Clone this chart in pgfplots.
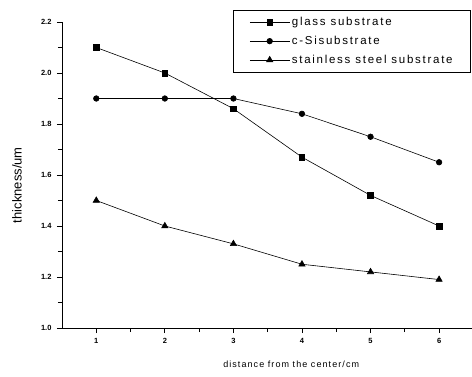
\documentclass[border=0pt]{standalone}
\usepackage{pgfplots}
\pgfplotsset{compat=1.18}
\usepackage{fontspec}
\setmainfont{Liberation Sans}
\newfontfamily\spaced[LetterSpace=12]{Liberation Sans}
\newfontfamily\lspaced[LetterSpace=15]{Liberation Sans}
\begin{document}
\begin{tikzpicture}
\begin{axis}[
  scale only axis,
  width=410pt, height=306pt,
  at={(0,0)}, anchor=south west,
  xmin=0.5, xmax=6.48, ymin=1.0, ymax=2.2,
  axis x line*=bottom, axis y line*=left,
  axis line style={-, line width=0.8pt},
  xtick={1,2,3,4,5,6}, ytick={1.0,1.2,1.4,1.6,1.8,2.0,2.2},
  minor xtick={1.5,2.5,3.5,4.5,5.5},
  minor ytick={1.1,1.3,1.5,1.7,1.9,2.1},
  tick align=outside,
  major tick length=5pt, minor tick length=4pt,
  every tick/.style={black, line width=0.8pt},
  /pgf/number format/assume math mode=true,
  /pgf/number format/fixed, /pgf/number format/fixed zerofill, /pgf/number format/precision=1,
  xticklabel style={font=\fontsize{7.5}{8}\selectfont\bfseries, /pgf/number format/precision=0, /pgf/number format/fixed zerofill=false, yshift=-2pt},
  yticklabel style={font=\fontsize{7.5}{8}\selectfont\bfseries, xshift=-2pt},
  xlabel={\spaced distance from the center/cm},
  ylabel={thickness/um},
  xlabel style={font=\fontsize{9}{10}\selectfont, at={(axis description cs:0.559,-0.118)}, anchor=center},
  ylabel style={font=\fontsize{13}{14}\selectfont, at={(axis description cs:-0.11,0.467)}, anchor=center},
  legend style={at={(409pt,318pt)}, anchor=north east, draw=black, line width=0.8pt,
    font=\lspaced\fontsize{11.5}{13}\selectfont, row sep=5pt, inner xsep=16pt, inner ysep=5pt,
    legend cell align=left},
  legend image code/.code={\draw[mark repeat=2,mark phase=2] plot coordinates {(0cm,0cm) (0.7cm,0cm) (1.4cm,0cm)};},
  every axis plot/.append style={black, line width=0.6pt},
]
\addplot[mark=square*, mark size=2.8pt] coordinates {(1,2.10) (2,2.00) (3,1.86) (4,1.67) (5,1.52) (6,1.40)};
\addlegendentry{glass substrate}
\addplot[mark=*, mark size=2.8pt] coordinates {(1,1.90) (2,1.90) (3,1.90) (4,1.84) (5,1.75) (6,1.65)};
\addlegendentry{c-Sisubstrate}
\addplot[mark=triangle*, mark size=3.6pt] coordinates {(1,1.50) (2,1.40) (3,1.33) (4,1.25) (5,1.22) (6,1.19)};
\addlegendentry{stainless steel substrate}
\end{axis}
\pgfresetboundingbox
\path (-62pt,-48pt) rectangle (410pt,328pt);
\end{tikzpicture}
\end{document}
